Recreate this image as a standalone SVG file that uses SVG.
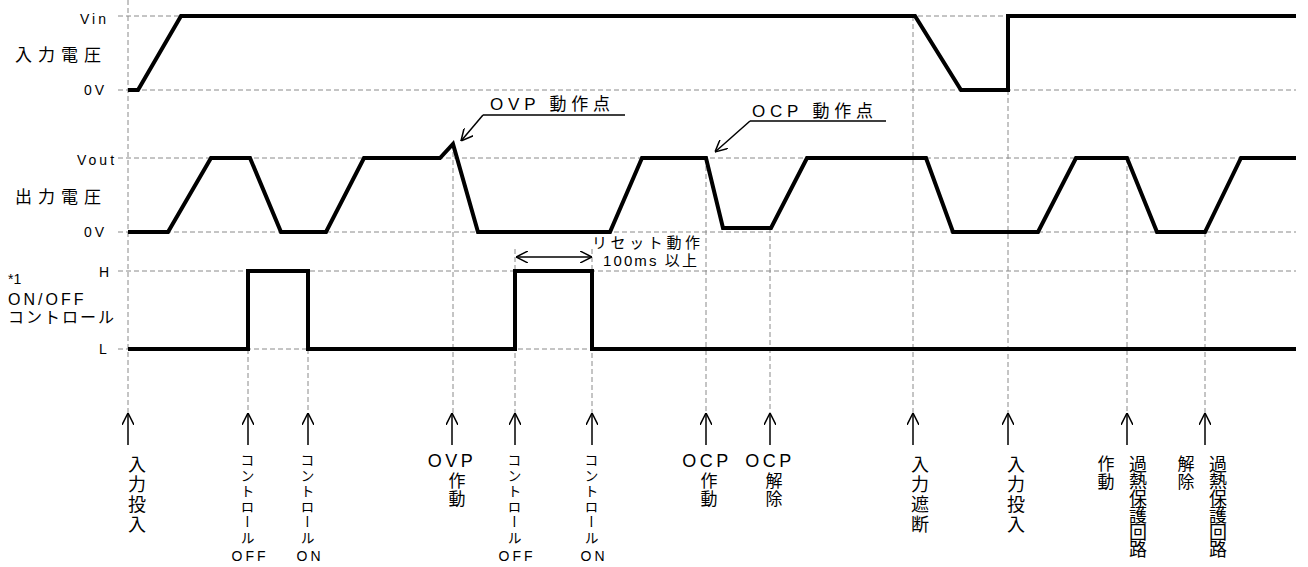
<svg xmlns="http://www.w3.org/2000/svg" width="1308" height="567" viewBox="0 0 1308 567">
<defs>
<style>
.grid{stroke:#8a8a8a;stroke-width:1;stroke-dasharray:5 3;fill:none}
.wave{stroke:#000;stroke-width:4;fill:none;stroke-linejoin:miter;stroke-linecap:butt}
.arr{stroke:#000;stroke-width:1.5;fill:none}
text{font-family:"Liberation Sans","Noto Sans CJK JP",sans-serif;fill:#000}
.ax{font-size:14px;letter-spacing:3px}
.big{font-size:17px;letter-spacing:6px}
.vt{writing-mode:vertical-rl;font-size:18px;letter-spacing:2px}
.vk{writing-mode:vertical-rl;font-size:14px;letter-spacing:1.5px}
.vs{writing-mode:vertical-rl;font-size:17px;letter-spacing:1px}
.vh{writing-mode:vertical-rl;font-size:18px;letter-spacing:-1px}
.sm{font-size:14px;letter-spacing:3px;text-anchor:middle}
.md{font-size:18px;letter-spacing:3.5px;text-anchor:middle}
</style>
<marker id="open" viewBox="0 0 12 12" refX="12" refY="6" markerWidth="12" markerHeight="12" markerUnits="userSpaceOnUse" orient="auto-start-reverse">
<path d="M0,0 L12,6 L0,12" fill="none" stroke="#000" stroke-width="1.5"/>
</marker>
</defs>
<rect width="1308" height="567" fill="#fff"/>

<g id="grid">
<path class="grid" d="M118,16H1296M118,90H1296M118,158H1296M118,232H1296M118,271H1296M118,349H1296"/>
<path class="grid" d="M128,0V413M248,349V413M308,349V413M453,144V413M515,249V413M592,249V413M706,158V413M770,228V413M913,16V413M1008,90V413M1127,158V413M1205,232V413"/>
</g>

<g id="waveforms">
<path id="wave-vin" class="wave" d="M128,90H138L181,16H915L961,90H1008V16H1296"/>
<path id="wave-vout" class="wave" d="M128,232H168L211,158H250L281,232H326L364,158H440L453,144L478,232H610L642,158H706L723,228H771L807,158H926L953,232H1038L1076,158H1127L1157,232H1205L1241,158H1296"/>
<path id="wave-ctrl" class="wave" d="M128,349H248V271H308V349H515V271H592V349H1296"/>
</g>

<g id="axis-labels">
<text class="ax" x="80" y="23.5">Vin</text>
<text class="ax" x="84" y="95">0V</text>
<text class="ax" x="77" y="165">Vout</text>
<text class="ax" x="84" y="237">0V</text>
<text class="ax" x="99" y="277">H</text>
<text class="ax" x="99" y="354">L</text>
</g>

<g id="label-vin"><text class="big" x="15" y="61">入力電圧</text></g>
<g id="label-vout"><text class="big" x="15" y="203">出力電圧</text></g>
<g id="label-ctrl">
<text x="8" y="284" style="font-size:14px">*1</text>
<text x="8" y="305" style="font-size:16px;letter-spacing:3px">ON/OFF</text>
<text x="8" y="323" style="font-size:16px;letter-spacing:2px">コントロール</text>
</g>

<g id="connectors">
<path class="arr" d="M483,115H625M750,121H886"/>
<path class="arr" d="M483,115L461,141" marker-end="url(#open)"/>
<path class="arr" d="M750,121L715,152" marker-end="url(#open)"/>
<path class="arr" d="M516,257H592" marker-start="url(#open)" marker-end="url(#open)"/>
<path class="arr" d="M128,445V413" marker-end="url(#open)"/>
<path class="arr" d="M248,445V413" marker-end="url(#open)"/>
<path class="arr" d="M308,445V413" marker-end="url(#open)"/>
<path class="arr" d="M452,445V413" marker-end="url(#open)"/>
<path class="arr" d="M515,445V413" marker-end="url(#open)"/>
<path class="arr" d="M592,445V413" marker-end="url(#open)"/>
<path class="arr" d="M706,445V413" marker-end="url(#open)"/>
<path class="arr" d="M770,445V413" marker-end="url(#open)"/>
<path class="arr" d="M913,445V413" marker-end="url(#open)"/>
<path class="arr" d="M1008,445V413" marker-end="url(#open)"/>
<path class="arr" d="M1127,445V413" marker-end="url(#open)"/>
<path class="arr" d="M1205,445V413" marker-end="url(#open)"/>
</g>

<g id="ovp-point"><text x="490" y="110" style="font-size:17px" textLength="120" lengthAdjust="spacing">OVP 動作点</text></g>
<g id="ocp-point"><text x="752" y="117" style="font-size:17px" textLength="121" lengthAdjust="spacing">OCP 動作点</text></g>
<g id="reset-note">
<text x="592" y="248" style="font-size:15px" textLength="108" lengthAdjust="spacing">リセット動作</text>
<text x="603" y="266" style="font-size:15px" textLength="94" lengthAdjust="spacing">100ms 以上</text>
</g>

<g id="ev-input-on"><text class="vt" x="135" y="455">入力投入</text></g>
<g id="ev-ctrl-off-1"><text class="vk" x="246.5" y="453">コントロール</text><text class="sm" x="250" y="561">OFF</text></g>
<g id="ev-ctrl-on-1"><text class="vk" x="306.5" y="453">コントロール</text><text class="sm" x="310" y="561">ON</text></g>
<g id="ev-ovp"><text class="md" x="452" y="467">OVP</text><text class="vs" x="455" y="472">作動</text></g>
<g id="ev-ctrl-off-2"><text class="vk" x="513.5" y="453">コントロール</text><text class="sm" x="517" y="561">OFF</text></g>
<g id="ev-ctrl-on-2"><text class="vk" x="590.5" y="453">コントロール</text><text class="sm" x="594" y="561">ON</text></g>
<g id="ev-ocp-on"><text class="md" x="707" y="467">OCP</text><text class="vs" x="707" y="472">作動</text></g>
<g id="ev-ocp-off"><text class="md" x="770" y="467">OCP</text><text class="vs" x="772" y="472">解除</text></g>
<g id="ev-input-off"><text class="vt" x="918" y="455">入力遮断</text></g>
<g id="ev-input-on-2"><text class="vt" x="1014" y="455">入力投入</text></g>
<g id="ev-otp-on"><text class="vh" x="1136" y="455">過熱保護回路</text><text class="vs" x="1104" y="455">作動</text></g>
<g id="ev-otp-off"><text class="vh" x="1216" y="455">過熱保護回路</text><text class="vs" x="1184" y="455">解除</text></g>
</svg>
